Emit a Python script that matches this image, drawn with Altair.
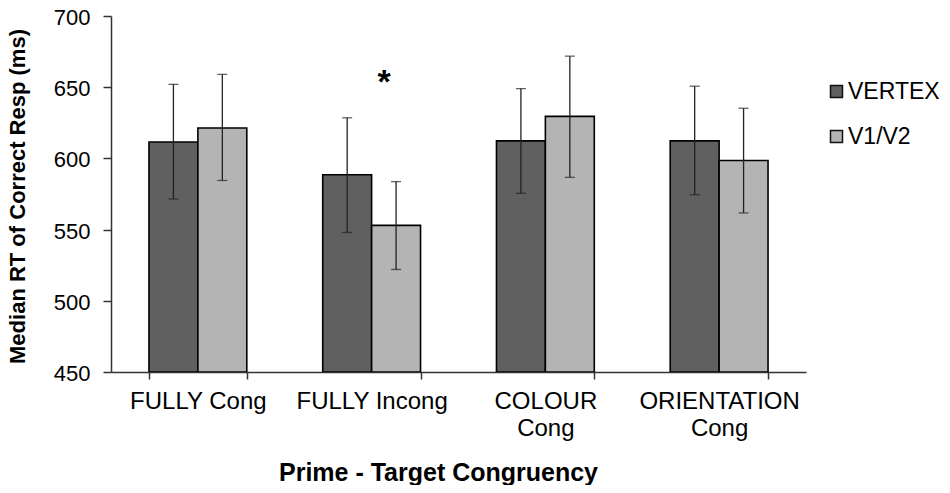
import altair as alt
import pandas as pd

categories = ["FULLY Cong", "FULLY Incong", "COLOUR\nCong", "ORIENTATION\nCong"]
series = ["VERTEX", "V1/V2"]
vertex_mean = [611.5, 588.5, 612.3, 612.3]
vertex_lo = [571.5, 548.0, 575.5, 574.5]
vertex_hi = [652.0, 628.5, 649.0, 650.7]
v1v2_mean = [621.3, 553.0, 629.5, 598.5]
v1v2_lo = [584.5, 522.0, 586.7, 561.7]
v1v2_hi = [659.0, 583.7, 671.8, 635.2]

star_category = ["FULLY Incong"]
star_text = ["*"]
star_y = [646]

rows = []
for i, c in enumerate(categories):
    rows.append(dict(cat=c, series="VERTEX", mean=vertex_mean[i], lo=vertex_lo[i], hi=vertex_hi[i]))
    rows.append(dict(cat=c, series="V1/V2", mean=v1v2_mean[i], lo=v1v2_lo[i], hi=v1v2_hi[i]))
df = pd.DataFrame(rows)
star_df = pd.DataFrame(dict(cat=star_category, t=star_text, y=star_y))

FONT = "Liberation Sans"
AXIS_COLOR = "#333333"

xscale = alt.Scale(domain=categories, paddingInner=0.437, paddingOuter=0.2185)
yscale = alt.Scale(domain=[450, 700], nice=False, zero=False)
offscale = alt.Scale(domain=series, paddingInner=0, paddingOuter=0)

x = alt.X(
    "cat:N",
    scale=xscale,
    sort=categories,
    axis=alt.Axis(
        title="Prime - Target Congruency",
        labelAngle=0,
        labelExpr="split(datum.label, '\\n')",
        labelFontSize=24,
        labelLineHeight=27,
        labelPadding=10,
        ticks=True,
        tickBand="extent",
        tickSize=7,
        tickColor=AXIS_COLOR,
        tickWidth=1.5,
        titleFontSize=25,
        titleX=327,
        titleY=88,
        titleBaseline="top",
        titleAnchor="start",
        titleAlign="center",
    ),
)

y = alt.Y(
    "mean:Q",
    scale=yscale,
    axis=alt.Axis(
        title="Median RT of Correct Resp (ms)",
        values=[450, 500, 550, 600, 650, 700],
        labelFontSize=22,
        labelPadding=13,
        labelOffset=1.5,
        ticks=True,
        tickSize=8,
        tickColor=AXIS_COLOR,
        tickWidth=1.5,
        titleFontSize=22,
        titleX=-82,
        titleY=180,
        titleAnchor="start",
        titleAlign="center",
    ),
)

color = alt.Color(
    "series:N",
    scale=alt.Scale(domain=series, range=["#606060", "#b4b4b4"]),
    legend=alt.Legend(
        title=None,
        orient="none",
        legendX=714,
        legendY=64,
        padding=0,
        symbolType="square",
        symbolSize=144,
        symbolStrokeColor="#111111",
        symbolStrokeWidth=1.5,
        labelFontSize=23,
        labelFont=FONT,
        labelColor="#000000",
        labelOffset=0,
        rowPadding=21,
    ),
)

base = alt.Chart(df)

bars = base.mark_bar(stroke="#000000", strokeWidth=1.6, clip=True).encode(
    x=x,
    xOffset=alt.XOffset("series:N", sort=series, scale=offscale),
    y=y,
    y2=alt.datum(450),
    color=color,
)

err = base.mark_rule(color="#222222", strokeWidth=1.3).encode(
    x=alt.X("cat:N", scale=xscale, sort=categories),
    xOffset=alt.XOffset("series:N", sort=series, scale=offscale),
    y="lo:Q",
    y2="hi:Q",
)

cap_lo = base.mark_tick(color="#222222", thickness=1.3, size=10).encode(
    x=alt.X("cat:N", scale=xscale, sort=categories),
    xOffset=alt.XOffset("series:N", sort=series, scale=offscale),
    y=alt.Y("lo:Q", scale=yscale),
)
cap_hi = base.mark_tick(color="#222222", thickness=1.3, size=10).encode(
    x=alt.X("cat:N", scale=xscale, sort=categories),
    xOffset=alt.XOffset("series:N", sort=series, scale=offscale),
    y=alt.Y("hi:Q", scale=yscale),
)

star = alt.Chart(star_df).mark_text(
    fontSize=34, fontWeight="bold", font=FONT, color="#000000", dx=12.5, baseline="alphabetic"
).encode(
    x=alt.X("cat:N", scale=xscale, sort=categories),
    y=alt.Y("y:Q", scale=yscale),
    text="t:N",
)

chart = (
    alt.layer(bars, err, cap_lo, cap_hi, star)
    .properties(
        width=695,
        height=356,
        autosize=alt.AutoSizeParams(type="none"),
        padding={"left": 103, "top": 8, "right": 136, "bottom": 113},
        background="#ffffff",
    )
    .configure_view(strokeWidth=0)
    .configure_axis(
        domain=True,
        domainColor=AXIS_COLOR,
        domainWidth=1.5,
        grid=False,
        labelFont=FONT,
        labelColor="#000000",
        titleFont=FONT,
        titleFontWeight="bold",
        titleColor="#000000",
    )
)

chart.save("out.html", embed_options={"renderer": "svg", "actions": False})
